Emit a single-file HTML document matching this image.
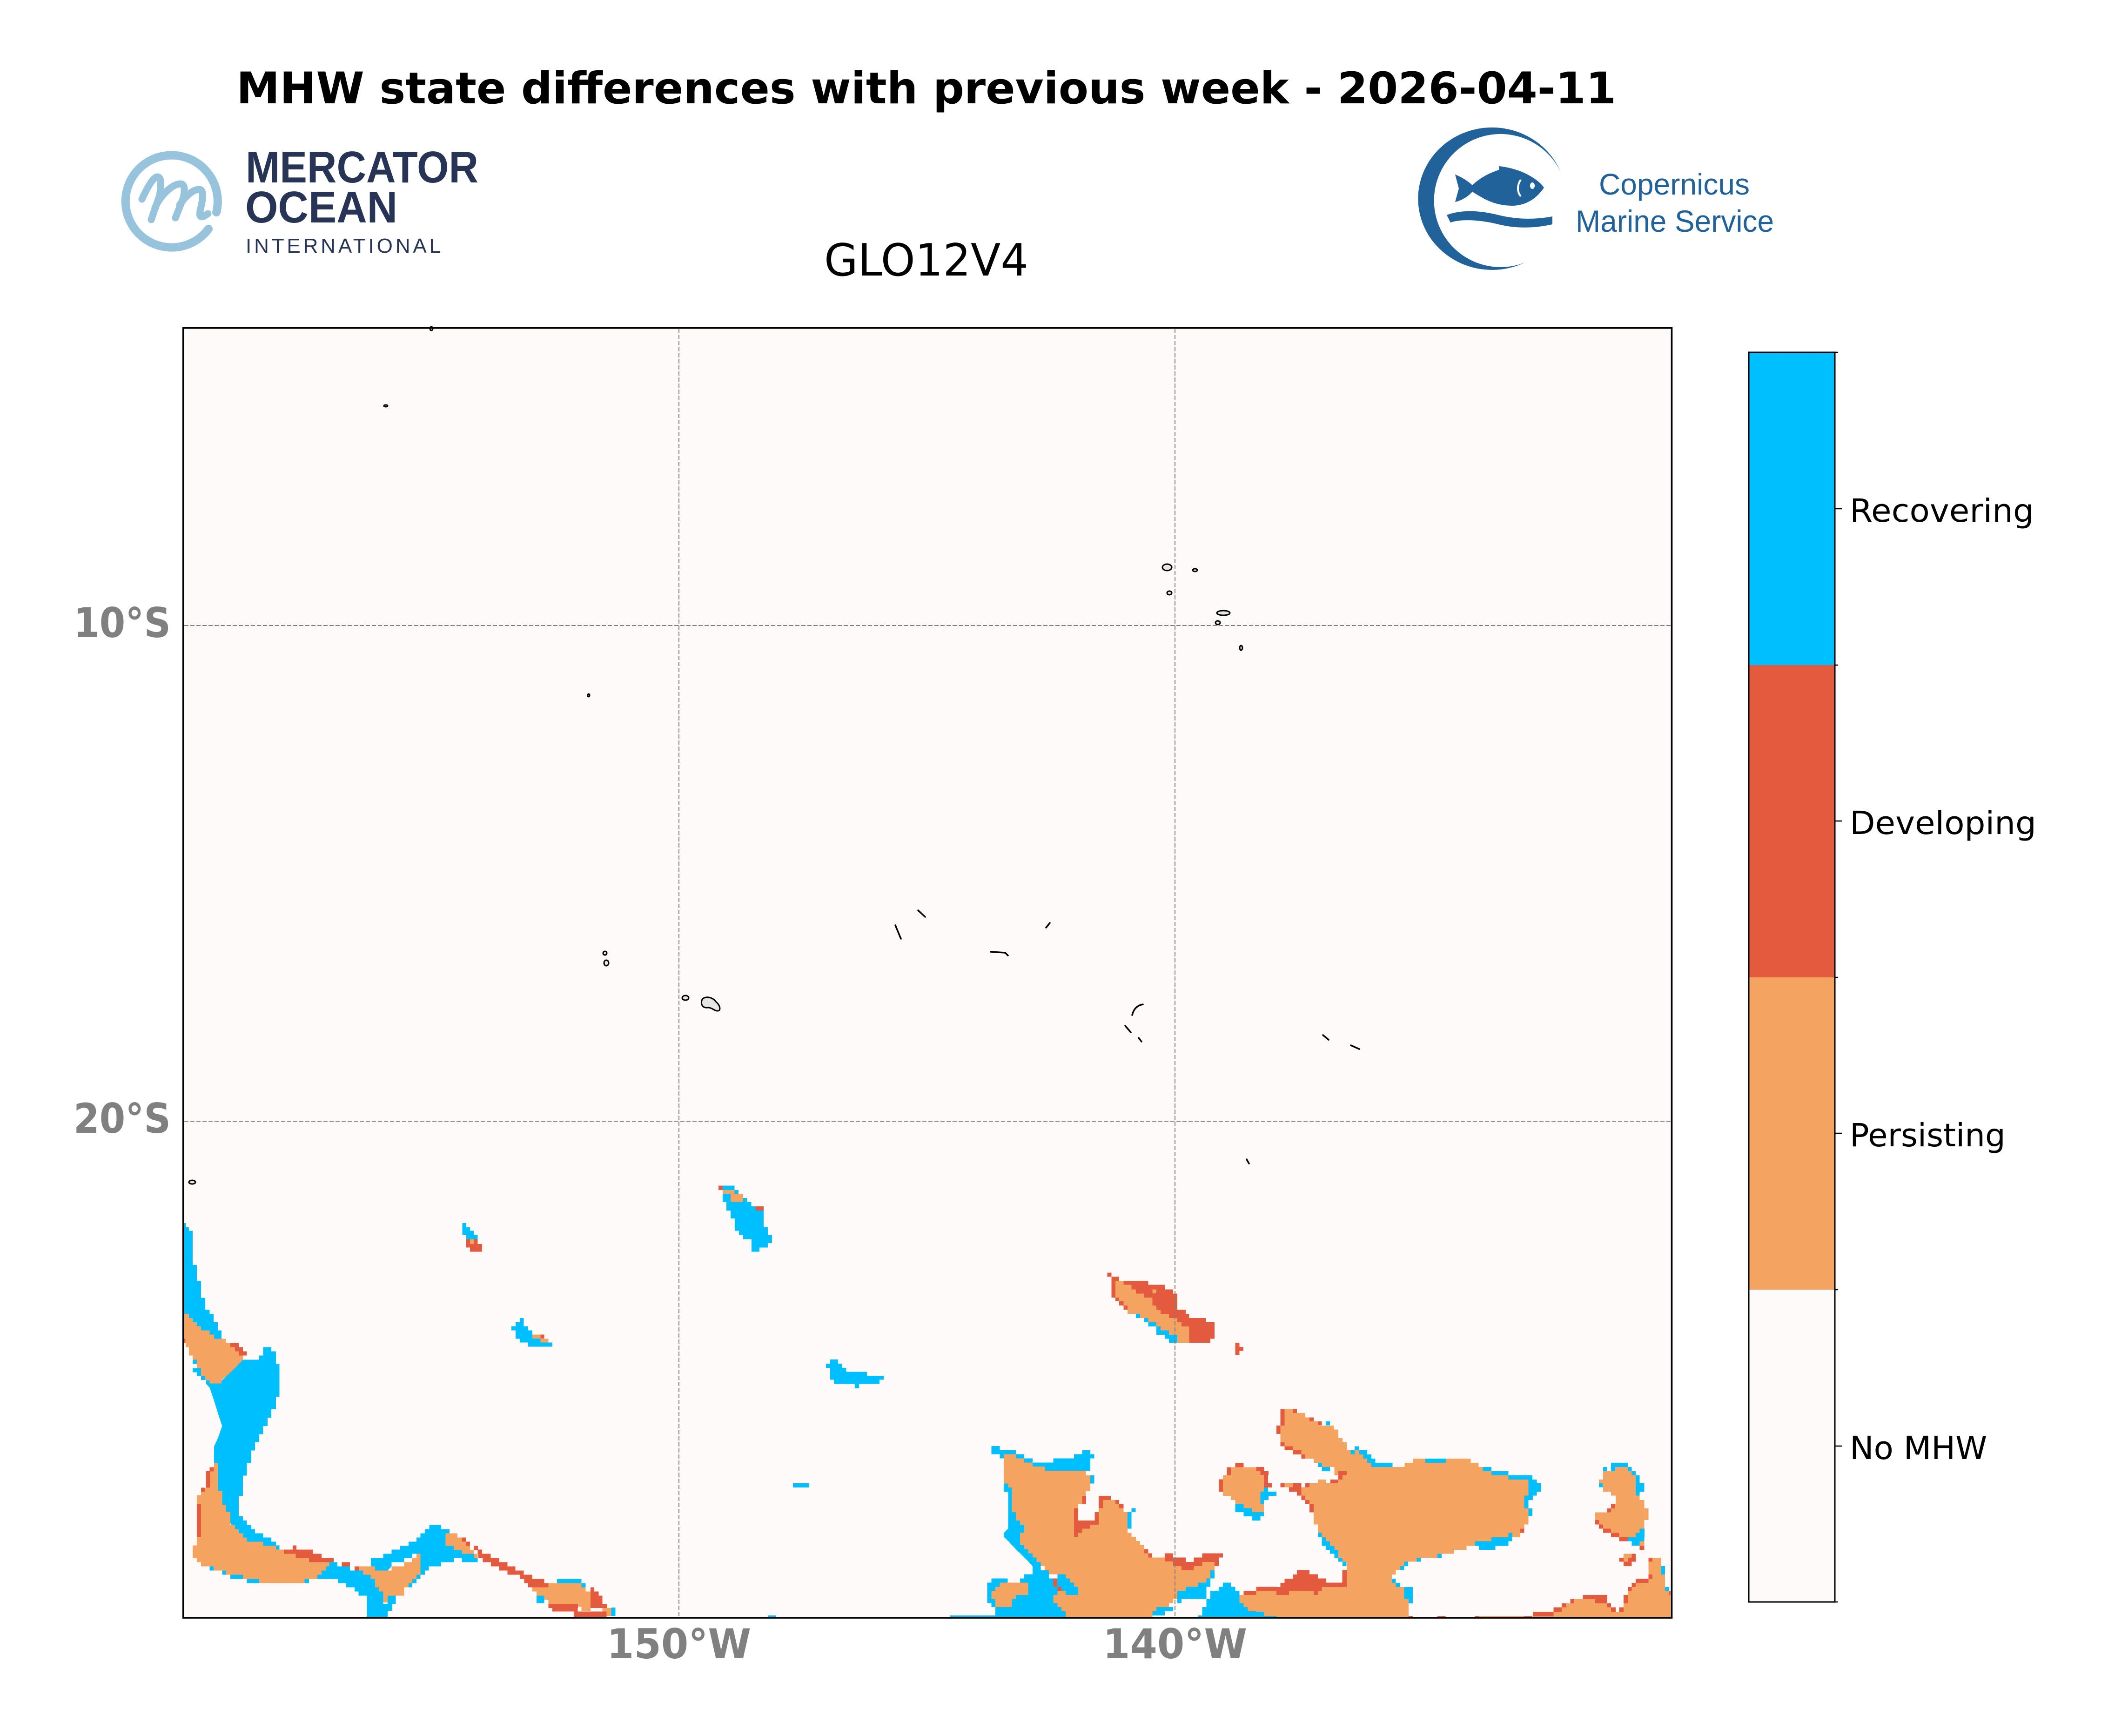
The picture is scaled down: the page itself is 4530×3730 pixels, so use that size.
<!DOCTYPE html>
<html>
<head>
<meta charset="utf-8">
<style>
html,body{margin:0;padding:0;background:#fff;}
svg{display:block;}
</style>
</head>
<body>
<svg xmlns="http://www.w3.org/2000/svg" width="4530" height="3730" viewBox="0 0 4530 3730">
<rect x="0" y="0" width="4530" height="3730" fill="#ffffff"/>

<!-- Title -->
<text x="508" y="222" font-family="DejaVu Sans, Liberation Sans, sans-serif" font-weight="bold" font-size="94" textLength="2965" lengthAdjust="spacingAndGlyphs" fill="#000">MHW state differences with previous week - 2026-04-11</text>
<text x="1771" y="592" font-family="DejaVu Sans, Liberation Sans, sans-serif" font-size="95" textLength="439" lengthAdjust="spacingAndGlyphs" fill="#000">GLO12V4</text>

<!-- Mercator logo -->
<path d="M448 492 A99 99 0 1 1 465 456" fill="none" stroke="#97C3DC" stroke-width="18" stroke-linecap="round"/>
<path d="M305 428 C318 400 330 380 338 380 C348 380 346 400 343 420 L325 472 M333 446 C345 420 370 395 388 395 C398 395 397 410 394 425 L377 468 M386 440 C400 420 415 407 428 407 C438 407 436 425 433 440 C428 460 425 475 447 459" fill="none" stroke="#97C3DC" stroke-width="15" stroke-linecap="round" stroke-linejoin="round"/>
<text x="528" y="392" font-family="Liberation Sans, DejaVu Sans, sans-serif" font-weight="bold" font-size="96" textLength="500" lengthAdjust="spacingAndGlyphs" fill="#283456">MERCATOR</text>
<text x="527" y="478" font-family="Liberation Sans, DejaVu Sans, sans-serif" font-weight="bold" font-size="96" textLength="327" lengthAdjust="spacingAndGlyphs" fill="#283456">OCEAN</text>
<text x="528" y="543" font-family="Liberation Sans, DejaVu Sans, sans-serif" font-size="44" textLength="419" lengthAdjust="spacing" fill="#283456">INTERNATIONAL</text>

<!-- Copernicus logo -->
<path d="M3354 370 A159 153 0 1 0 3277 564 A143 143 0 1 1 3354 370 Z" fill="#21629A"/>
<path d="M3127 375 C3145 382 3158 392 3164 398 C3180 382 3200 372 3221 365 L3221 357 C3270 362 3305 385 3318 403 C3300 430 3275 442 3249 442 C3210 442 3185 425 3164 412 C3155 422 3143 430 3127 434 L3135 405 Z" fill="#21629A"/>
<ellipse cx="3293" cy="399" rx="5" ry="7" fill="#fff"/>
<path d="M3268 386 C3260 398 3260 412 3268 422" fill="none" stroke="#fff" stroke-width="4"/>
<path d="M3109 462 C3140 450 3180 452 3220 462 C3260 472 3300 472 3336 465 L3336 482 C3300 490 3260 492 3220 482 C3180 472 3140 470 3117 478 Z" fill="#21629A"/>
<text x="3598" y="418" text-anchor="middle" font-family="Liberation Sans, DejaVu Sans, sans-serif" font-size="64" textLength="324" lengthAdjust="spacingAndGlyphs" fill="#21629A">Copernicus</text>
<text x="3599" y="498" text-anchor="middle" font-family="Liberation Sans, DejaVu Sans, sans-serif" font-size="66" textLength="426" lengthAdjust="spacingAndGlyphs" fill="#21629A">Marine Service</text>

<defs>
<clipPath id="ax"><rect x="396" y="707" width="3194" height="2767"/></clipPath>
</defs>

<!-- Map background -->
<rect x="396" y="707" width="3194" height="2767" fill="#FFFAFA"/>

<g clip-path="url(#ax)" shape-rendering="crispEdges">

<!-- ===== Zoom 5 region (bottom-left) ===== -->
<g transform="translate(390 2550) scale(0.63776 0.59949)">
 <g fill="#00BFFF">
  <polygon points="8,130 15,130 15,145 25,145 25,158 38,158 38,280 52,280 52,338 66,338 66,398 80,398 80,440 95,440 95,455 108,455 108,485 122,485 122,515 135,515 135,545 8,545"/>
  <polygon points="275,575 303,575 303,590 318,590 318,635 330,635 330,752 318,752 318,797 303,797 303,827 290,827 290,857 275,857 275,887 262,887 262,915 248,915 248,945 235,945 235,990 220,990 220,1035 207,1035 207,1108 193,1108 193,1180 207,1180 207,1196 220,1196 220,1212 235,1212 235,1227 248,1227 248,1242 275,1242 275,1257 303,1257 303,1272 318,1272 318,1300 275,1300 220,1272 193,1255 150,1180 137,1140 123,1090 110,1000 110,930 123,900 137,857 123,812 110,767 95,720 82,705 82,693 137,693 165,665 180,650 193,635 207,620 262,620 262,605 275,605"/>
  <polygon points="498,1345 525,1345 525,1360 568,1360 568,1375 612,1375 612,1390 637,1390 637,1405 652,1405 652,1435 665,1435 665,1450 680,1450 680,1545 612,1545 625,1540 625,1465 597,1465 597,1450 583,1450 583,1435 555,1435 555,1420 527,1420 527,1405 458,1405 458,1390 472,1390 472,1375 487,1375 487,1360 498,1360"/>
  <polygon points="835,1212 875,1212 875,1227 903,1227 903,1242 890,1242 890,1287 917,1287 917,1302 945,1302 945,1315 985,1315 985,1330 998,1330 998,1345 945,1345 945,1330 917,1330 917,1345 875,1345 875,1360 833,1360 833,1375 820,1375 820,1390 805,1390 805,1315 778,1315 778,1330 750,1330 750,1345 708,1345 708,1360 695,1375 652,1375 652,1360 638,1360 638,1330 680,1330 680,1315 708,1315 708,1300 737,1300 737,1287 765,1287 765,1272 792,1272 792,1257 805,1257 805,1242 820,1242 820,1227 835,1227"/>
  <polygon points="946,130 960,130 960,145 972,145 972,158 985,158 985,172 998,172 998,188 960,188 960,172 946,172"/>
  <polygon points="1140,470 1153,470 1153,500 1168,500 1168,515 1182,515 1182,530 1210,530 1210,545 1236,545 1236,558 1250,558 1250,573 1168,573 1168,558 1140,558 1140,545 1126,545 1126,515 1112,515 1112,500 1126,500 1126,485 1140,485"/>
  <rect x="38" y="620" width="14" height="15"/><rect x="38" y="650" width="28" height="15"/><rect x="52" y="665" width="14" height="13"/><rect x="66" y="678" width="14" height="14"/>
  <rect x="318" y="1285" width="12" height="15"/><rect x="695" y="1465" width="27" height="30"/><rect x="625" y="1495" width="85" height="25"/><rect x="625" y="1520" width="70" height="25"/>
  <rect x="95" y="1360" width="14" height="15"/><rect x="137" y="1375" width="14" height="15"/><rect x="165" y="1390" width="42" height="15"/><rect x="220" y="1405" width="42" height="15"/><rect x="415" y="1405" width="15" height="15"/>
  <rect x="1265" y="1405" width="83" height="15"/><rect x="1348" y="1420" width="14" height="15"/><rect x="1196" y="1465" width="26" height="27"/><rect x="1448" y="1508" width="14" height="30"/>
  <rect x="792" y="1390" width="13" height="15"/><rect x="778" y="1405" width="14" height="15"/><rect x="765" y="1420" width="13" height="15"/>
 </g>
 <g fill="#F4A460">
  <polygon points="8,455 25,455 25,470 38,470 38,485 52,485 52,500 66,500 66,515 95,515 95,530 110,530 110,545 150,545 150,560 165,560 165,575 180,575 180,590 193,590 193,605 207,605 207,620 193,635 180,650 165,665 150,680 135,692 135,705 95,705 95,692 80,692 80,678 66,678 66,650 52,650 52,620 38,620 38,605 25,605 25,575 15,575 15,560 8,560"/>
  <polygon points="110,990 123,990 123,1090 137,1090 137,1140 150,1140 150,1165 165,1165 165,1212 180,1212 180,1227 193,1227 193,1242 207,1242 207,1257 220,1257 220,1272 275,1272 275,1287 318,1287 318,1300 345,1300 345,1315 385,1315 385,1330 430,1330 430,1345 498,1345 498,1360 487,1360 487,1375 472,1375 472,1390 458,1390 458,1405 415,1405 415,1420 262,1420 262,1405 207,1405 207,1390 150,1390 150,1375 110,1375 110,1360 66,1360 66,1345 52,1345 52,1330 38,1330 38,1285 52,1285 52,1105 66,1105 66,1080 82,1080 82,1035 95,1035 95,1005 110,1005"/>
  <polygon points="598,1360 652,1360 652,1375 708,1375 708,1360 750,1360 750,1345 778,1345 778,1330 792,1330 792,1315 805,1315 805,1390 792,1390 792,1405 778,1405 778,1420 765,1420 765,1435 750,1435 750,1465 695,1465 695,1490 680,1490 680,1450 665,1450 665,1435 652,1435 652,1405 637,1405 637,1390 612,1390 612,1375 598,1375"/>
  <polygon points="890,1242 930,1242 930,1257 945,1257 945,1272 960,1272 960,1287 972,1287 972,1302 985,1302 985,1315 945,1315 945,1302 917,1302 917,1287 890,1287"/>
  <polygon points="1182,1435 1236,1435 1236,1420 1348,1420 1348,1435 1362,1435 1362,1450 1378,1450 1378,1520 1348,1520 1348,1505 1336,1505 1336,1495 1236,1495 1236,1480 1222,1480 1222,1465 1196,1465 1196,1450 1182,1450"/>
  <rect x="1418" y="1510" width="30" height="28"/><rect x="972" y="188" width="13" height="17"/><rect x="1182" y="530" width="28" height="14"/><rect x="1210" y="545" width="26" height="13"/><rect x="985" y="1315" width="13" height="15"/>
 </g>
 <g fill="#E45A3E">
  <rect x="165" y="560" width="28" height="15"/><rect x="180" y="575" width="27" height="15"/><rect x="193" y="590" width="27" height="15"/><rect x="8" y="545" width="5" height="15"/>
  <rect x="52" y="1138" width="14" height="117"/><rect x="66" y="1078" width="14" height="15"/><rect x="82" y="1018" width="14" height="60"/><rect x="95" y="1005" width="14" height="15"/>
  <rect x="345" y="1300" width="98" height="15"/><rect x="375" y="1285" width="12" height="15"/><rect x="385" y="1315" width="87" height="15"/><rect x="430" y="1330" width="83" height="15"/><rect x="540" y="1345" width="28" height="15"/><rect x="583" y="1360" width="15" height="15"/>
  <rect x="945" y="1257" width="14" height="15"/><rect x="958" y="1272" width="14" height="15"/><rect x="985" y="1287" width="14" height="15"/><rect x="998" y="1300" width="15" height="15"/><rect x="1000" y="1315" width="42" height="15"/><rect x="1015" y="1330" width="55" height="15"/><rect x="1043" y="1345" width="55" height="15"/><rect x="1070" y="1360" width="55" height="15"/><rect x="1098" y="1375" width="55" height="15"/><rect x="1140" y="1390" width="42" height="15"/><rect x="1155" y="1405" width="67" height="15"/><rect x="1168" y="1420" width="68" height="15"/>
  <rect x="1378" y="1435" width="12" height="15"/><rect x="1378" y="1450" width="28" height="15"/><rect x="1378" y="1465" width="40" height="30"/><rect x="1378" y="1495" width="55" height="15"/><rect x="1236" y="1495" width="100" height="15"/><rect x="1250" y="1510" width="85" height="12"/><rect x="1322" y="1522" width="110" height="22"/>
  <rect x="960" y="188" width="12" height="30"/><rect x="985" y="188" width="13" height="17"/><rect x="972" y="205" width="41" height="28"/><rect x="1210" y="530" width="12" height="14"/>
 </g>
</g>

<!-- ===== Zoom 8 region (middle) ===== -->
<g transform="translate(1400 2500) scale(0.5102 0.63138)">
 <g fill="#00BFFF">
  <polygon points="300,75 350,75 350,90 367,90 367,117 403,117 403,131 420,131 420,146 472,146 472,216 490,216 490,243 508,243 508,271 490,271 490,286 455,286 455,300 421,300 421,257 386,257 386,243 368,243 368,229 351,229 351,187 333,187 333,160 316,160 316,131 300,131"/>
  <polygon points="753,667 786,667 786,681 803,681 803,695 820,695 820,709 907,709 907,722 978,722 978,736 960,736 960,750 874,750 874,765 857,765 857,750 768,750 768,736 753,736 753,695 735,695 735,681 753,681"/>
  <rect x="596" y="1088" width="68" height="14"/><rect x="490" y="1538" width="35" height="12"/><rect x="1256" y="1538" width="230" height="12"/>
 </g>
 <polygon fill="#F4A460" points="300,90 350,90 350,103 386,103 386,131 333,131 333,103 300,103"/>
 <g fill="#E45A3E"><rect x="282" y="75" width="18" height="15"/><rect x="438" y="146" width="34" height="14"/></g>
</g>

<!-- ===== Zoom 6 region ===== -->
<g transform="translate(2100 2700) scale(0.5102 0.5038)">
 <g fill="#00BFFF">
  <polygon points="60,808 95,808 95,826 163,826 163,843 198,843 198,860 233,860 233,878 320,878 320,860 408,860 408,843 442,843 442,826 476,826 476,843 493,843 493,860 476,860 476,933 493,933 493,968 476,968 476,913 112,913 112,860 95,860 95,843 60,843"/>
  <polygon points="112,968 130,968 130,985 146,985 146,1090 163,1090 163,1125 180,1125 180,1143 198,1143 198,1178 180,1178 180,1230 198,1230 198,1248 215,1248 215,1265 233,1265 233,1283 250,1283 250,1302 268,1302 268,1338 233,1338 233,1320 215,1300 198,1283 180,1265 163,1248 146,1230 130,1213 112,1195 112,1178 130,1160 130,1003 112,1003"/>
  <polygon points="42,1390 60,1390 60,1373 128,1373 128,1390 180,1390 180,1373 198,1373 198,1355 233,1355 233,1320 268,1320 268,1338 302,1338 302,1373 338,1373 338,1355 372,1355 372,1373 390,1373 390,1390 408,1390 408,1408 425,1408 425,1443 442,1443 442,1478 425,1478 425,1460 372,1460 372,1540 0,1540 0,1530 76,1530 76,1495 60,1495 60,1478 42,1478"/>
  <polygon points="843,1408 878,1408 878,1390 930,1390 930,1373 965,1373 965,1355 982,1355 982,1338 1000,1338 1000,1373 982,1373 982,1408 965,1408 965,1460 860,1460 860,1478 843,1478 843,1495 825,1495 825,1513 790,1513 790,1530 738,1530 738,1540 700,1540 700,1495 843,1495"/>
  <polygon points="930,1530 948,1530 948,1495 965,1495 965,1460 982,1460 982,1425 1017,1425 1017,1408 1035,1408 1035,1390 1068,1390 1068,1408 1087,1408 1087,1425 1104,1425 1104,1478 1122,1478 1122,1495 1140,1495 1140,1513 1207,1513 1207,1530 1260,1530 1260,1540 930,1540"/>
  <polygon points="1207,985 1225,985 1225,1003 1260,1003 1260,1020 1225,1020 1225,1038 1207,1038 1207,1055 1193,1055 1193,1003 1207,1003"/>
  <polygon points="1087,1055 1122,1055 1122,1073 1157,1073 1157,1090 1207,1090 1207,1108 1193,1108 1193,1125 1157,1125 1157,1108 1122,1108 1122,1090 1087,1090"/>
  <rect x="633" y="1090" width="17" height="70"/><rect x="650" y="1073" width="17" height="17"/>
 </g>
 <polygon fill="#E45A3E" points="548,68 565,68 565,85 598,85 598,103 720,103 720,120 790,120 790,140 825,140 825,158 843,158 843,226 878,226 878,244 893,244 893,262 963,262 963,280 1000,280 1000,350 982,350 982,367 808,367 808,350 790,350 790,333 772,333 772,298 755,298 755,280 720,280 720,262 686,262 686,244 633,244 633,226 616,226 616,208 598,208 598,190 582,190 582,175 565,175 565,85 548,85"/>
 <g fill="#F4A460">
  <polygon points="582,103 616,103 616,120 650,120 650,140 668,140 668,158 703,158 703,175 738,175 738,208 755,208 755,226 772,226 772,244 808,244 808,262 843,262 843,280 860,280 860,298 893,298 893,367 843,367 843,333 808,333 808,315 772,315 772,298 755,298 755,280 720,280 720,262 686,262 686,244 633,244 633,208 616,208 616,190 598,190 598,175 582,175"/>
  <rect x="738" y="140" width="17" height="17"/>
  <polygon points="112,843 163,843 163,860 198,860 198,878 233,878 233,895 285,895 285,913 458,913 458,933 476,933 476,1000 458,1000 458,1020 442,1020 442,1055 425,1055 425,1073 408,1073 408,1195 425,1195 425,1178 442,1178 442,1160 476,1160 476,1143 512,1143 512,1073 530,1073 530,1038 582,1038 582,1055 598,1055 598,1073 616,1073 616,1090 633,1090 633,1178 650,1178 650,1195 668,1195 668,1213 686,1213 686,1230 703,1230 703,1265 720,1265 720,1283 790,1283 790,1300 825,1300 825,1320 860,1320 860,1338 912,1338 912,1320 948,1320 948,1302 1000,1302 1000,1338 982,1338 982,1373 965,1373 965,1390 930,1390 930,1408 878,1408 878,1425 843,1425 843,1460 825,1460 825,1478 808,1478 808,1495 755,1495 755,1513 738,1513 738,1540 372,1540 372,1513 355,1513 355,1495 338,1495 338,1478 320,1478 320,1443 338,1443 338,1425 372,1425 372,1443 425,1443 425,1408 408,1408 408,1390 390,1390 390,1373 372,1373 372,1355 302,1355 302,1338 285,1338 285,1320 268,1320 268,1302 250,1302 250,1283 233,1283 233,1265 215,1265 215,1248 198,1248 198,1230 180,1230 180,1178 198,1178 198,1143 180,1143 180,1125 163,1125 163,1090 146,1090 146,985 130,985 130,968 112,968"/>
  <polygon points="76,1408 95,1408 95,1390 215,1390 215,1443 163,1443 163,1460 146,1460 146,1495 76,1495 76,1460 60,1460 60,1425 76,1425"/>
  <polygon points="1068,898 1175,898 1175,915 1193,915 1193,933 1207,933 1207,1003 1193,1003 1193,1055 1207,1055 1207,1090 1157,1090 1157,1073 1122,1073 1122,1055 1087,1055 1087,1038 1068,1038 1068,1020 1035,1020 1035,933 1052,933 1052,915 1068,915"/>
  <polygon points="1104,1443 1122,1443 1122,1425 1175,1425 1175,1408 1260,1408 1260,1425 1278,1425 1278,1408 1295,1408 1295,1390 1330,1390 1330,1373 1348,1373 1348,1338 1398,1338 1398,1355 1435,1355 1435,1373 1470,1373 1470,1390 1555,1390 1555,1540 1207,1540 1207,1513 1140,1513 1140,1495 1122,1495 1122,1478 1104,1478"/>
 </g>
 <g fill="#E45A3E">
  <polygon points="408,1073 425,1073 425,1125 495,1125 495,1090 512,1090 512,1143 476,1143 476,1160 442,1160 442,1178 425,1178 425,1195 408,1195"/>
  <rect x="442" y="1020" width="17" height="35"/><rect x="512" y="1020" width="51" height="18"/><rect x="512" y="1038" width="18" height="35"/><rect x="582" y="1038" width="16" height="17"/><rect x="598" y="1055" width="18" height="18"/>
  <rect x="703" y="1248" width="17" height="17"/><rect x="720" y="1265" width="17" height="18"/>
  <polygon points="790,1265 825,1265 825,1283 878,1283 878,1302 912,1302 912,1283 948,1283 948,1265 1035,1265 1035,1283 1017,1283 1017,1320 1000,1320 1000,1302 948,1302 948,1320 912,1320 912,1338 860,1338 860,1320 825,1320 825,1300 790,1300"/>
  <polygon points="1122,1425 1175,1425 1175,1408 1260,1408 1260,1425 1278,1425 1278,1408 1295,1408 1295,1390 1330,1390 1330,1373 1348,1373 1348,1338 1398,1338 1398,1355 1435,1355 1435,1373 1470,1373 1470,1390 1555,1390 1555,1408 1450,1408 1450,1425 1435,1425 1435,1443 1418,1443 1418,1425 1313,1425 1313,1443 1260,1443 1260,1425 1175,1425 1175,1443 1122,1443"/>
  <rect x="1538" y="1338" width="18" height="70"/>
  <rect x="1087" y="880" width="35" height="18"/><rect x="1052" y="898" width="16" height="35"/><rect x="1017" y="950" width="18" height="52"/><rect x="1175" y="898" width="33" height="17"/><rect x="1207" y="915" width="18" height="52"/><rect x="1207" y="968" width="35" height="17"/>
  <rect x="1087" y="367" width="17" height="53"/><rect x="1104" y="385" width="17" height="17"/>
  <rect x="320" y="1373" width="17" height="35"/><rect x="338" y="1408" width="17" height="17"/>
 </g>
 <g fill="#00BFFF">
  <rect x="668" y="244" width="18" height="18"/><rect x="703" y="262" width="17" height="18"/><rect x="720" y="280" width="35" height="18"/><rect x="755" y="298" width="17" height="17"/><rect x="755" y="315" width="53" height="18"/><rect x="790" y="333" width="53" height="17"/><rect x="808" y="350" width="35" height="17"/>
 </g>
</g>

<!-- ===== Zoom 7 region (bottom-right) ===== -->
<g transform="translate(2700 2950) scale(0.57398 0.34439)">
 <g fill="#F4A460">
  <polygon points="105,225 137,225 137,250 183,250 183,277 199,277 199,302 230,302 230,328 290,328 290,353 307,353 307,407 322,407 322,433 338,433 338,482 353,482 353,508 400,508 400,535 415,535 415,560 430,560 430,587 555,587 555,560 585,560 585,535 802,535 802,560 832,560 832,587 848,587 848,613 880,613 880,638 943,638 943,665 1018,665 1018,765 1003,765 1003,845 1018,845 1018,945 1003,945 1003,972 987,972 987,1025 880,1025 880,1050 818,1050 818,1078 787,1078 787,1103 740,1103 740,1128 678,1128 678,1153 600,1153 600,1178 553,1178 553,1205 538,1205 538,1230 522,1230 522,1257 507,1257 507,1310 522,1310 522,1335 553,1335 553,1410 570,1410 570,1525 0,1525 0,1360 245,1360 245,1335 338,1335 338,1178 322,1178 322,1153 307,1153 307,1103 292,1103 292,1078 275,1078 275,1050 260,1050 260,1025 245,1025 245,998 230,998 230,945 214,945 214,818 199,818 199,792 183,792 183,765 168,765 168,713 199,713 199,688 307,688 307,665 322,665 322,638 338,638 338,613 292,613 292,587 245,587 245,560 214,560 214,535 183,535 183,508 168,508 168,482 137,482 137,457 105,457 105,433 90,433 90,328 105,328"/>
  <polygon points="1298,587 1313,587 1313,613 1328,613 1328,587 1390,587 1390,613 1405,613 1405,638 1420,638 1420,765 1435,765 1435,792 1452,792 1452,845 1468,845 1468,918 1452,918 1452,972 1435,972 1435,998 1420,998 1420,1025 1358,1025 1358,998 1328,998 1328,972 1298,972 1298,945 1282,945 1282,918 1268,918 1268,870 1313,870 1313,845 1328,845 1328,818 1345,818 1345,765 1328,765 1328,740 1298,740 1298,688 1282,688 1282,665 1298,665"/>
  <polygon points="1468,1153 1515,1153 1515,1257 1530,1257 1530,1335 1545,1335 1545,1360 1560,1360 1560,1525 1035,1525 1035,1490 1112,1490 1112,1462 1143,1462 1143,1437 1175,1437 1175,1410 1222,1410 1222,1385 1313,1385 1313,1437 1328,1437 1328,1462 1345,1462 1345,1490 1358,1490 1358,1462 1375,1462 1375,1437 1390,1437 1390,1360 1405,1360 1405,1335 1420,1335 1420,1310 1468,1310 1468,1283 1482,1283 1482,1257 1468,1257"/>
  <rect x="105" y="688" width="32" height="25"/><rect x="230" y="665" width="30" height="23"/><rect x="292" y="613" width="15" height="25"/><rect x="368" y="482" width="16" height="26"/>
  <rect x="833" y="1515" width="170" height="10"/><rect x="1435" y="1050" width="17" height="28"/>
  <rect x="1375" y="1128" width="30" height="27"/><rect x="1375" y="1153" width="15" height="25"/>
 </g>
 <g fill="#E45A3E">
  <rect x="90" y="225" width="15" height="103"/><rect x="137" y="225" width="15" height="25"/><rect x="199" y="277" width="15" height="25"/><rect x="230" y="302" width="15" height="25"/><rect x="75" y="328" width="15" height="52"/><rect x="90" y="433" width="15" height="24"/><rect x="105" y="457" width="32" height="25"/><rect x="137" y="482" width="31" height="26"/><rect x="168" y="508" width="15" height="27"/>
  <rect x="307" y="613" width="31" height="25"/><rect x="307" y="638" width="15" height="27"/><rect x="277" y="665" width="30" height="23"/><rect x="90" y="688" width="15" height="25"/><rect x="137" y="688" width="31" height="25"/><rect x="183" y="688" width="16" height="25"/><rect x="122" y="713" width="46" height="27"/><rect x="152" y="740" width="16" height="25"/><rect x="168" y="765" width="15" height="27"/><rect x="183" y="792" width="16" height="26"/><rect x="199" y="818" width="15" height="52"/><rect x="987" y="972" width="16" height="26"/>
  <rect x="0" y="587" width="28" height="26"/><rect x="15" y="613" width="30" height="25"/><rect x="28" y="638" width="15" height="50"/><rect x="28" y="688" width="30" height="25"/>
  <polygon points="152,1230 199,1230 199,1257 230,1257 230,1283 260,1283 260,1310 322,1310 322,1230 338,1230 338,1335 245,1335 245,1360 230,1360 230,1385 214,1385 214,1360 122,1360 122,1385 75,1385 75,1360 0,1360 0,1335 90,1335 90,1310 105,1310 105,1283 137,1283 137,1257 152,1257"/>
  <rect x="570" y="1515" width="15" height="10"/><rect x="678" y="1515" width="30" height="10"/><rect x="818" y="1515" width="15" height="10"/><rect x="1003" y="1515" width="30" height="10"/>
  <rect x="1328" y="818" width="15" height="27"/><rect x="1313" y="845" width="15" height="25"/><rect x="1268" y="918" width="15" height="27"/><rect x="1282" y="945" width="16" height="27"/><rect x="1298" y="972" width="30" height="25"/><rect x="1328" y="998" width="30" height="27"/><rect x="1358" y="1025" width="32" height="25"/><rect x="1435" y="1078" width="17" height="25"/>
  <rect x="1405" y="1128" width="15" height="25"/><rect x="1390" y="1153" width="30" height="25"/><rect x="1375" y="1178" width="30" height="27"/><rect x="1358" y="1153" width="17" height="25"/>
  <rect x="1222" y="1385" width="92" height="26"/><rect x="1268" y="1410" width="45" height="27"/><rect x="1175" y="1410" width="15" height="27"/><rect x="1143" y="1437" width="17" height="25"/><rect x="1112" y="1462" width="31" height="28"/><rect x="1035" y="1490" width="77" height="28"/><rect x="1313" y="1437" width="15" height="25"/><rect x="1328" y="1462" width="17" height="28"/><rect x="1358" y="1462" width="17" height="28"/><rect x="1375" y="1385" width="15" height="52"/><rect x="1390" y="1335" width="15" height="25"/><rect x="1405" y="1310" width="15" height="25"/><rect x="1420" y="1283" width="48" height="27"/><rect x="1468" y="1257" width="15" height="26"/><rect x="1468" y="1153" width="15" height="25"/><rect x="1545" y="1360" width="15" height="25"/>
 </g>
 <g fill="#00BFFF">
  <rect x="260" y="302" width="15" height="25"/><rect x="368" y="457" width="16" height="25"/><rect x="353" y="482" width="15" height="26"/><rect x="384" y="482" width="31" height="26"/><rect x="400" y="508" width="30" height="27"/><rect x="415" y="535" width="30" height="25"/><rect x="430" y="560" width="80" height="27"/><rect x="230" y="560" width="15" height="27"/><rect x="245" y="587" width="30" height="26"/>
  <rect x="632" y="535" width="78" height="25"/><rect x="848" y="587" width="32" height="26"/><rect x="880" y="613" width="63" height="25"/><rect x="943" y="638" width="90" height="27"/><rect x="1018" y="665" width="32" height="23"/><rect x="1018" y="688" width="48" height="52"/><rect x="1018" y="740" width="32" height="25"/><rect x="1003" y="765" width="32" height="27"/><rect x="1003" y="792" width="15" height="53"/><rect x="1018" y="845" width="15" height="48"/>
  <rect x="943" y="998" width="15" height="27"/><rect x="880" y="1025" width="77" height="25"/><rect x="818" y="1050" width="125" height="28"/><rect x="833" y="1078" width="62" height="25"/><rect x="678" y="1128" width="15" height="25"/><rect x="600" y="1153" width="15" height="25"/><rect x="553" y="1178" width="15" height="27"/><rect x="538" y="1205" width="15" height="25"/><rect x="507" y="1283" width="15" height="27"/><rect x="522" y="1310" width="16" height="25"/><rect x="553" y="1335" width="32" height="75"/><rect x="570" y="1410" width="15" height="27"/>
  <rect x="230" y="998" width="15" height="27"/><rect x="245" y="1025" width="15" height="25"/><rect x="245" y="1050" width="30" height="28"/><rect x="260" y="1078" width="32" height="25"/><rect x="275" y="1103" width="32" height="25"/><rect x="292" y="1128" width="15" height="25"/><rect x="307" y="1153" width="15" height="25"/><rect x="322" y="1178" width="15" height="27"/>
  <rect x="0" y="1490" width="28" height="35"/><rect x="28" y="1515" width="47" height="10"/><rect x="15" y="740" width="60" height="25"/><rect x="15" y="765" width="30" height="27"/><rect x="15" y="792" width="13" height="25"/><rect x="0" y="870" width="28" height="25"/><rect x="0" y="895" width="15" height="25"/>
  <rect x="1328" y="560" width="62" height="27"/><rect x="1298" y="587" width="15" height="26"/><rect x="1328" y="587" width="15" height="26"/><rect x="1390" y="587" width="15" height="26"/><rect x="1405" y="613" width="15" height="25"/><rect x="1420" y="638" width="15" height="50"/><rect x="1420" y="688" width="32" height="52"/><rect x="1420" y="740" width="15" height="25"/><rect x="1282" y="688" width="15" height="25"/><rect x="1435" y="972" width="18" height="26"/><rect x="1420" y="998" width="33" height="27"/><rect x="1390" y="1025" width="62" height="25"/><rect x="1405" y="1050" width="30" height="27"/>
  <rect x="1515" y="1205" width="15" height="52"/><rect x="1530" y="1335" width="15" height="25"/>
 </g>
</g>

</g>

<!-- Islands -->
<g fill="#e6e6e6" stroke="#000" stroke-width="3">
 <ellipse cx="927" cy="706" rx="3" ry="4"/>
 <ellipse cx="829" cy="872" rx="4" ry="2"/>
 <ellipse cx="2508" cy="1219" rx="10" ry="7"/>
 <ellipse cx="2568" cy="1225" rx="5" ry="3"/>
 <ellipse cx="2513" cy="1274" rx="5" ry="4"/>
 <ellipse cx="2629" cy="1317" rx="14" ry="5"/>
 <ellipse cx="2617" cy="1338" rx="5" ry="4"/>
 <ellipse cx="2667" cy="1392" rx="3" ry="5"/>
 <ellipse cx="1265" cy="1494" rx="2" ry="3"/>
 <ellipse cx="1300" cy="2048" rx="4" ry="4"/>
 <ellipse cx="1303" cy="2069" rx="5" ry="6"/>
 <ellipse cx="1473" cy="2144" rx="7" ry="5"/>
 <path d="M1508 2150 C1510 2140 1530 2140 1538 2152 C1548 2160 1550 2172 1542 2172 C1534 2172 1530 2164 1520 2165 C1510 2166 1506 2158 1508 2150 Z"/>
 <ellipse cx="413" cy="2540" rx="7" ry="4"/>
</g>
<g fill="none" stroke="#000" stroke-width="3.5" stroke-linecap="round">
 <path d="M1924 1988 L1936 2017"/>
 <path d="M1973 1956 L1988 1970"/>
 <path d="M2129 2045 L2160 2047 L2166 2053"/>
 <path d="M2248 1993 L2256 1983"/>
 <path d="M2433 2181 C2436 2168 2444 2160 2456 2158"/>
 <path d="M2418 2204 L2430 2218"/>
 <path d="M2447 2230 L2453 2238"/>
 <path d="M2843 2224 L2855 2234"/>
 <path d="M2903 2246 L2921 2254"/>
 <path d="M2679 2491 L2684 2500"/>
</g>

<!-- Gridlines -->
<g stroke="#7f7f7f" stroke-width="2" stroke-dasharray="9 4" fill="none">
 <line x1="1459" y1="707" x2="1459" y2="3474"/>
 <line x1="2525" y1="707" x2="2525" y2="3474"/>
 <line x1="396" y1="1344" x2="3590" y2="1344"/>
 <line x1="396" y1="2409" x2="3590" y2="2409"/>
</g>

<!-- Axes frame -->
<rect x="393.7" y="704.7" width="3198.8" height="2771.3" fill="none" stroke="#000" stroke-width="3.6"/>

<!-- Tick labels -->
<g font-family="DejaVu Sans, Liberation Sans, sans-serif" font-weight="bold" font-size="88" fill="#808080">
 <text x="367" y="1369" text-anchor="end" textLength="209" lengthAdjust="spacingAndGlyphs">10°S</text>
 <text x="367" y="2434" text-anchor="end" textLength="209" lengthAdjust="spacingAndGlyphs">20°S</text>
 <text x="1459" y="3563" text-anchor="middle" textLength="310" lengthAdjust="spacingAndGlyphs">150°W</text>
 <text x="2525" y="3563" text-anchor="middle" textLength="310" lengthAdjust="spacingAndGlyphs">140°W</text>
</g>

<!-- Colorbar -->
<rect x="3758" y="757" width="185" height="672" fill="#00BFFF"/>
<rect x="3758" y="1429" width="185" height="671" fill="#E45A3E"/>
<rect x="3758" y="2100" width="185" height="671" fill="#F4A460"/>
<rect x="3758" y="2771" width="185" height="671" fill="#FFFAFA"/>
<rect x="3758" y="757" width="185" height="2685" fill="none" stroke="#000" stroke-width="3"/>
<g stroke="#000" stroke-width="2.5">
 <line x1="3943" y1="757" x2="3950" y2="757"/>
 <line x1="3943" y1="1429" x2="3950" y2="1429"/>
 <line x1="3943" y1="2100" x2="3950" y2="2100"/>
 <line x1="3943" y1="2771" x2="3950" y2="2771"/>
 <line x1="3943" y1="3442" x2="3950" y2="3442"/>
 <line x1="3943" y1="1093" x2="3958" y2="1093"/>
 <line x1="3943" y1="1764" x2="3958" y2="1764"/>
 <line x1="3943" y1="2435" x2="3958" y2="2435"/>
 <line x1="3943" y1="3107" x2="3958" y2="3107"/>
</g>
<g font-family="DejaVu Sans, Liberation Sans, sans-serif" font-size="69" fill="#000">
 <text x="3975" y="1121" textLength="396" lengthAdjust="spacingAndGlyphs">Recovering</text>
 <text x="3975" y="1792" textLength="401" lengthAdjust="spacingAndGlyphs">Developing</text>
 <text x="3975" y="2463">Persisting</text>
 <text x="3975" y="3135">No MHW</text>
</g>

</svg>
</body>
</html>
